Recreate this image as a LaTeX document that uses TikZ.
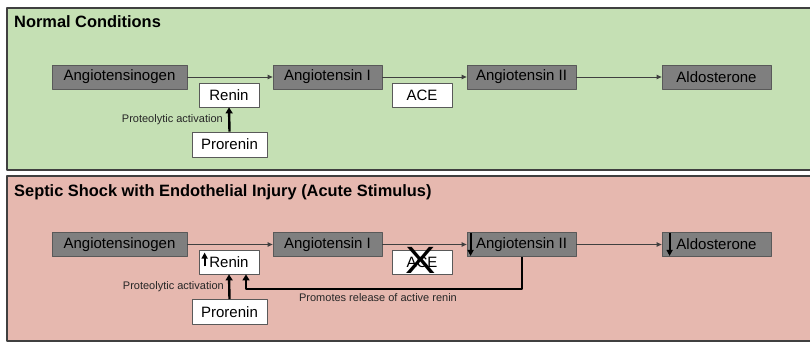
\documentclass[tikz,border=0pt]{standalone}
\usepackage{fontspec}
\setmainfont{Liberation Sans}
\usetikzlibrary{arrows.meta,positioning}
\definecolor{normalfill}{HTML}{C5E0B4}
\definecolor{shockfill}{HTML}{E6B8AF}
\definecolor{hormfill}{HTML}{7F7F7F}
\definecolor{hormline}{HTML}{595959}
\definecolor{panelline}{HTML}{404040}
\tikzset{
  panel/.style={draw=panelline, line width=2pt},
  paneltitle/.style={anchor=west, inner sep=0pt, font=\fontsize{16.4}{18}\selectfont\bfseries},
  hormone/.style={draw=hormline, fill=hormfill, line width=0.8pt, inner sep=0pt,
    minimum height=24pt, minimum width=109pt, font=\fontsize{15}{17}\selectfont},
  enzyme/.style={draw=hormline, fill=white, line width=0.8pt, inner sep=0pt,
    minimum height=24pt, minimum width=60pt, font=\fontsize{15}{17}\selectfont},
  flow/.style={draw=panelline, line width=0.9pt, -{Triangle[length=5pt,width=4.5pt]}},
  push/.style={draw=black, line width=2.4pt, -{Triangle[length=6pt,width=7pt]}},
  marker/.style={draw=black, line width=2pt, -{Triangle[length=6pt,width=6pt]}},
  smalltext/.style={inner sep=0pt, font=\fontsize{11}{13}\selectfont, text=black!85}
}
\begin{document}
\begin{tikzpicture}[x=1pt, y=-1pt, line join=round]
  \useasboundingbox (0,0) rectangle (810,342);
  % normal conditions
  \draw[panel, fill=normalfill] (7,8) rectangle (815,170);
  \node[paneltitle] (titleN) at (14,22) {Normal Conditions};
  \node[hormone, minimum width=135pt] (aogN) at (119.5,77) {Angiotensinogen};
  \node[enzyme] (reninN) at (229,95) {Renin};
  \node[enzyme, minimum width=75pt, minimum height=25pt] (proN) at (229.5,144.5) {Prorenin};
  \node[hormone] (angIN) at (327.5,77) {Angiotensin I};
  \node[enzyme] (aceN) at (422,95) {ACE};
  \node[hormone] (angIIN) at (521.5,77) {Angiotensin II};
  \node[hormone] (aldoN) at (716.5,77) {Aldosterone};
  \draw[flow] (aogN) -- (angIN);
  \draw[flow] (angIN) -- (angIIN);
  \draw[flow] (angIIN) -- (aldoN);
  \draw[push] (proN.north) -- (reninN.south);
  \node[smalltext, anchor=east] (protN) at (223,120) {Proteolytic activation};
  % septic shock
  \draw[panel, fill=shockfill] (7,176) rectangle (815,341);
  \node[paneltitle] (titleS) at (14,192) {Septic Shock with Endothelial Injury (Acute Stimulus)};
  \node[hormone, minimum width=135pt] (aogS) at (119.5,244.5) {Angiotensinogen};
  \node[enzyme] (reninS) at (229,262) {Renin};
  \node[enzyme, minimum width=75pt, minimum height=25pt] (proS) at (229.5,312) {Prorenin};
  \node[hormone] (angIS) at (327.5,244.5) {Angiotensin I};
  \node[enzyme] (aceS) at (422,262) {ACE};
  \node[hormone] (angIIS) at (521.5,244.5) {Angiotensin II};
  \node[hormone] (aldoS) at (716.5,244.5) {Aldosterone};
  \node[inner sep=0pt, font=\fontsize{38}{38}\selectfont] (blockS) at (421,260) {\scalebox{1.2}[1]{X}};
  \draw[flow] (aogS) -- (angIS);
  \draw[flow] (angIS) -- (angIIS);
  \draw[flow] (angIIS) -- (aldoS);
  \draw[push] (proS.north) -- (reninS.south);
  \node[smalltext, anchor=east] (protS) at (224,287) {Proteolytic activation};
  \coordinate (loopS) at (522,289);
  \draw[push] (angIIS.south -| loopS) -- (loopS) -| ([xshift=17pt]reninS.south);
  \node[smalltext, anchor=north] (relS) at (378,293) {Promotes release of active renin};
  % up and down markers
  \draw[marker] ([xshift=6pt,yshift=8pt]reninS.south west) -- ([xshift=6pt,yshift=-3pt]reninS.north west);
  \draw[marker] ([xshift=4pt,yshift=-1pt]angIIS.north west) -- ([xshift=4pt,yshift=1pt]angIIS.south west);
  \draw[marker] ([xshift=8pt,yshift=-1pt]aldoS.north west) -- ([xshift=8pt,yshift=1pt]aldoS.south west);
\end{tikzpicture}
\end{document}
